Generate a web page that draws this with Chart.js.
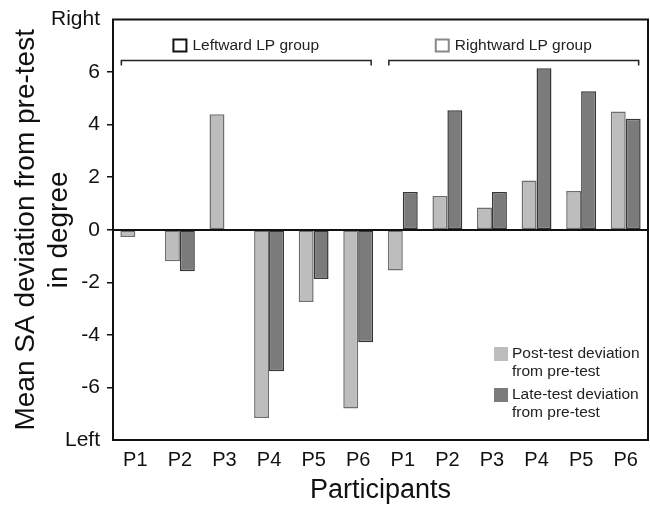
<!DOCTYPE html>
<html>
<head>
<meta charset="utf-8">
<script src="https://cdn.jsdelivr.net/npm/chart.js@4.4.1/dist/chart.umd.min.js"></script>
<style>
  html, body { margin: 0; padding: 0; background: #fff; }
  #wrap { width: 650px; height: 507px; }
</style>
</head>
<body>
<div id="wrap"><canvas id="chart"></canvas></div>
<script>
// participants, left group then right group
const participants = ['P1', 'P2', 'P3', 'P4', 'P5', 'P6', 'P1', 'P2', 'P3', 'P4', 'P5', 'P6'];
const postTest = [-0.27, -1.2, 4.4, -7.16, -2.75, -6.8, -1.55, 1.29, 0.85, 1.88, 1.48, 4.5];
const lateTest = [null, -1.58, null, -5.38, -1.87, -4.28, 1.44, 4.55, 1.44, 6.15, 5.27, 4.23];
const seriesNames = [['Post-test deviation', 'from pre-test'], ['Late-test deviation', 'from pre-test']];
const groupNames = ['Leftward LP group', 'Rightward LP group'];
const groupSpans = [[0, 5], [6, 11]];
const endLabels = { '8': 'Right', '-8': 'Left' };

const FONT = "'Liberation Sans', Arial, Helvetica, sans-serif";
const lightFill = '#bdbdbd', lightEdge = '#6e6e6e';
const darkFill = '#7b7b7b', darkEdge = '#363636';

const decor = {
  id: 'decor',
  afterDatasetsDraw(chart) {
    const { ctx, chartArea: a, scales: { x, y } } = chart;
    ctx.save();
    ctx.strokeStyle = '#111';
    ctx.lineWidth = 2;
    // zero line
    const y0 = Math.round(y.getPixelForValue(0));
    ctx.beginPath();
    ctx.moveTo(a.left, y0);
    ctx.lineTo(a.right, y0);
    ctx.stroke();
    // top + right frame
    ctx.beginPath();
    ctx.moveTo(a.left - 1, a.top);
    ctx.lineTo(a.right, a.top);
    ctx.lineTo(a.right, a.bottom + 1);
    ctx.stroke();

    // group brackets and labels
    const bars = chart.getDatasetMeta(0).data;
    const boxEdge = ['#111', '#888'];
    groupSpans.forEach(([i0, i1], g) => {
      const w = bars[i0].width;
      const xa = x.getPixelForValue(i0) - w + 1;
      const xb = x.getPixelForValue(i1) + w - 2;
      const yb = Math.round(y.getPixelForValue(6.45)) + 0.5;
      ctx.lineWidth = 1.5;
      ctx.strokeStyle = '#222';
      ctx.beginPath();
      ctx.moveTo(xa, yb + 5);
      ctx.lineTo(xa, yb);
      ctx.lineTo(xb, yb);
      ctx.lineTo(xb, yb + 5);
      ctx.stroke();

      ctx.font = '15.5px ' + FONT;
      const tw = ctx.measureText(groupNames[g]).width;
      const total = 13 + 6 + tw;
      const cx = (xa + xb) / 2;
      const lx = cx - total / 2;
      const ly = yb - 15;
      ctx.lineWidth = 2;
      ctx.strokeStyle = boxEdge[g];
      ctx.strokeRect(lx, ly - 6, 13, 12);
      ctx.fillStyle = '#222';
      ctx.textBaseline = 'middle';
      ctx.textAlign = 'left';
      ctx.fillText(groupNames[g], lx + 19, ly);
    });
    ctx.restore();
  },
  afterDraw(chart) {
    const { ctx, chartArea: a } = chart;
    const fills = [lightFill, darkFill];
    ctx.save();
    ctx.font = '15.5px ' + FONT;
    ctx.textBaseline = 'middle';
    ctx.textAlign = 'left';
    let ly = a.bottom - 86;
    const sx = a.right - 154;
    seriesNames.forEach((lines, i) => {
      ctx.fillStyle = fills[i];
      ctx.fillRect(sx, ly - 7, 14, 14);
      ctx.fillStyle = '#222';
      lines.forEach((t, k) => ctx.fillText(t, sx + 18, ly + k * 18));
      ly += 41;
    });
    ctx.restore();
  }
};

new Chart(document.getElementById('chart'), {
  type: 'bar',
  data: {
    labels: participants,
    datasets: [
      { label: seriesNames[0].join(' '), data: postTest, backgroundColor: lightFill, borderColor: lightEdge, borderWidth: 1.5, borderSkipped: false },
      { label: seriesNames[1].join(' '), data: lateTest, backgroundColor: darkFill, borderColor: darkEdge, borderWidth: 1.5, borderSkipped: false }
    ]
  },
  options: {
    responsive: true,
    maintainAspectRatio: false,
    animation: false,
    layout: { padding: { top: 15, right: 2, left: 0, bottom: 0 } },
    datasets: { bar: { barPercentage: 1, categoryPercentage: 0.67 } },
    plugins: { legend: { display: false }, tooltip: { enabled: false } },
    scales: {
      x: {
        grid: { display: false },
        border: { display: true, color: '#111', width: 2 },
        ticks: { color: '#111', font: { family: FONT, size: 20 }, padding: 0, maxRotation: 0, autoSkip: false },
        title: { display: true, text: 'Participants', color: '#111', font: { family: FONT, size: 27 }, padding: { top: 4, bottom: 0 } },
        afterFit(s) { s.height = 67; }
      },
      y: {
        min: -8,
        max: 8,
        grid: {
          drawOnChartArea: false,
          drawTicks: true,
          tickLength: 6,
          lineWidth: 1.5,
          color: (c) => (Math.abs(c.tick ? c.tick.value : 0) === 8 ? 'rgba(0,0,0,0)' : '#111')
        },
        border: { display: true, color: '#111', width: 2 },
        ticks: {
          stepSize: 2,
          color: '#111',
          padding: 7,
          font: { family: FONT, size: 21 },
          callback: (v) => endLabels[String(v)] || String(v)
        },
        title: {
          display: true,
          text: ['Mean SA deviation from pre-test', 'in degree'],
          color: '#111',
          font: { family: FONT, size: 28, lineHeight: 1.18 },
          padding: { top: 10, bottom: 0 }
        },
        afterFit(s) { s.width = 113; }
      }
    }
  },
  plugins: [decor]
});
</script>
</body>
</html>
